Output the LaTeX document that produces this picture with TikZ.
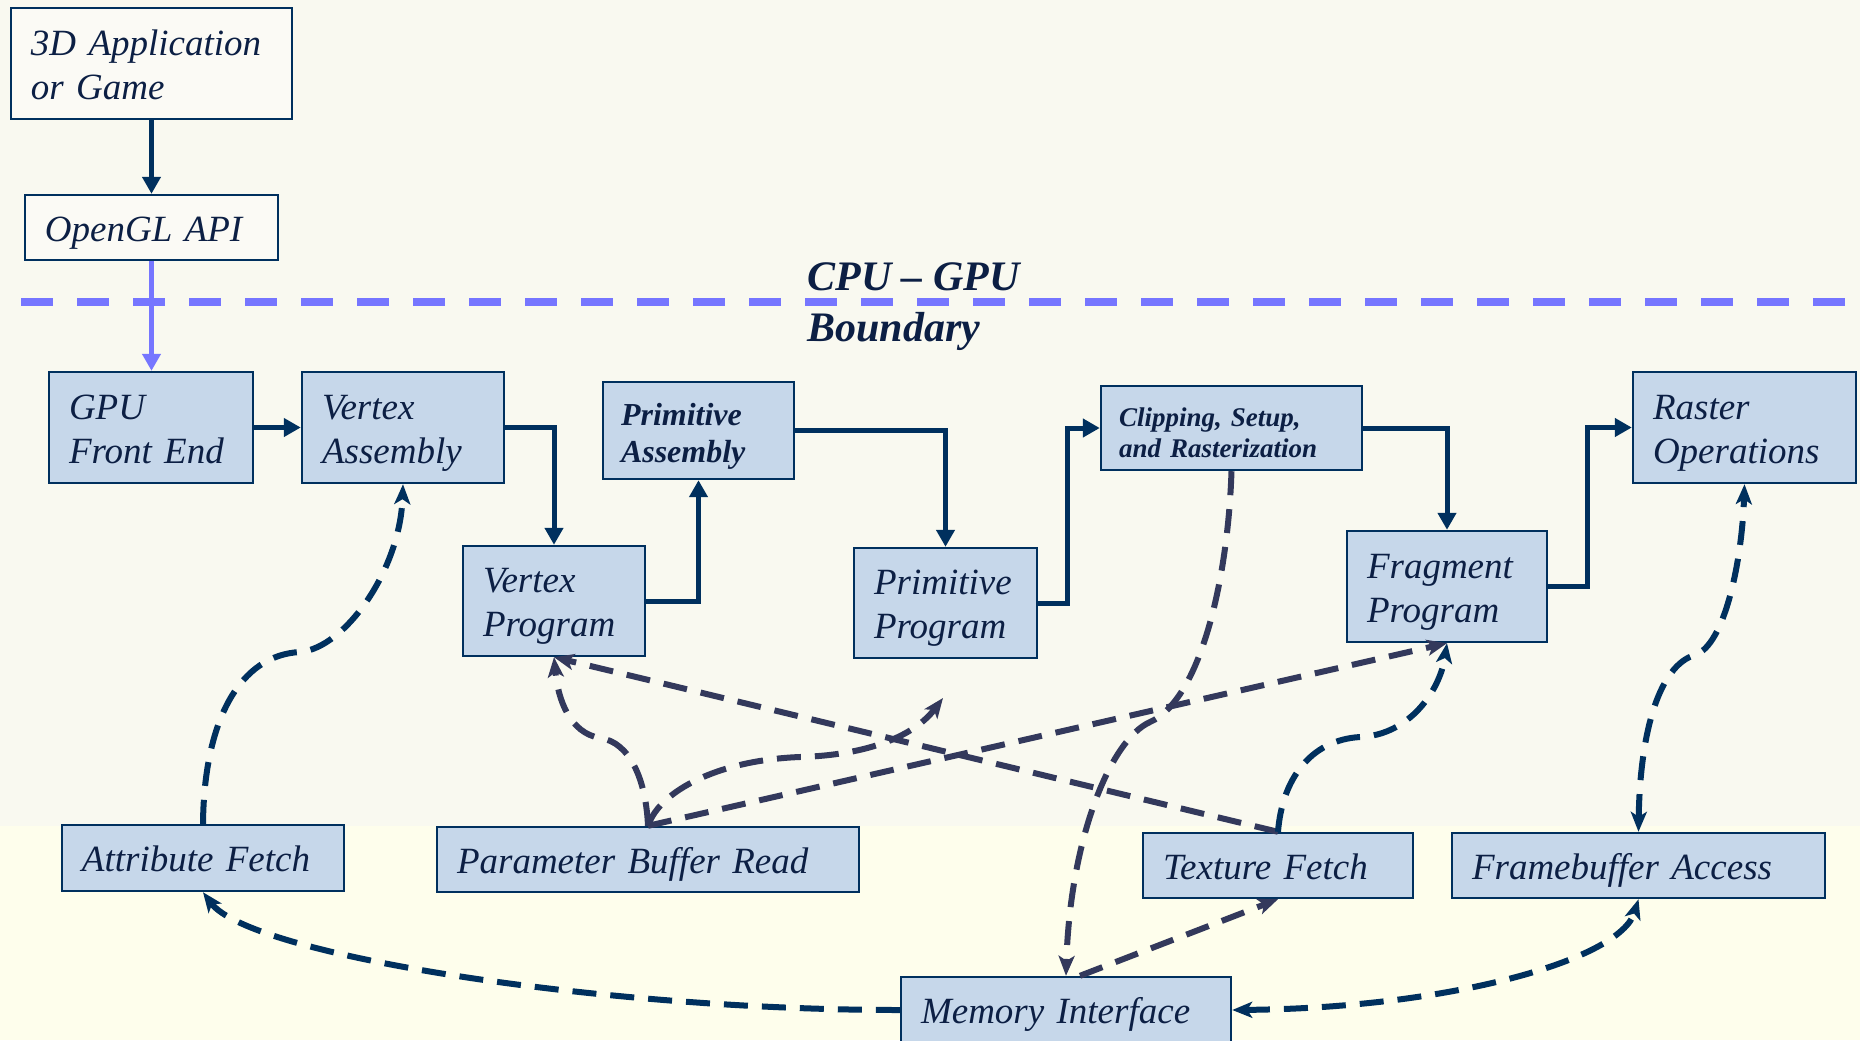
\documentclass[tikz,border=0pt]{standalone}
\usepackage{fontspec}
\setmainfont{Liberation Serif}
\usetikzlibrary{arrows.meta}

\definecolor{bgtop}{HTML}{F9F9F0}
\definecolor{bgbot}{HTML}{FEFEEC}
\definecolor{boxfill}{HTML}{C6D7EA}
\definecolor{paper}{HTML}{FBFAF5}
\definecolor{navy}{HTML}{00305E}
\definecolor{ink}{HTML}{0C1F44}
\definecolor{slate}{HTML}{33395C}
\definecolor{bound}{HTML}{7676FF}

% struts that fix where the lines sit inside the boxes:
% one gives the first line its height, the other the last line its depth
\newcommand\stagetop{\rule{0pt}{18pt}}
\newcommand\stagebot{\rule[-4.4pt]{0pt}{4.4pt}}
\newcommand\boldtop{\rule{0pt}{15pt}}
\newcommand\boldbot{\rule[-4pt]{0pt}{4pt}}
\newcommand\smalltop{\rule{0pt}{13.5pt}}
\newcommand\smallbot{\rule[-3.3pt]{0pt}{3.3pt}}

\tikzset{
  stage/.style={draw=navy, line width=1.2pt, fill=boxfill, text=ink,
    font=\itshape\fontsize{18.5}{22}\selectfont, align=left,
    inner xsep=10pt, inner ysep=0pt,
    execute at begin node=\stagetop, execute at end node=\stagebot},
  hostbox/.style={stage, fill=paper},
  boldstage/.style={stage, font=\bfseries\itshape\fontsize{16}{18.5}\selectfont, inner xsep=9pt,
    execute at begin node=\boldtop, execute at end node=\boldbot},
  smallstage/.style={boldstage, font=\bfseries\itshape\fontsize{13.5}{15.5}\selectfont,
    execute at begin node=\smalltop, execute at end node=\smallbot},
  flow/.style={draw=navy, line width=2.5pt, arrows={-Triangle[length=8.5pt,width=9pt]}},
  busnavy/.style={draw=navy, line width=3pt, dash pattern=on 12pt off 7pt,
    arrows={-Stealth[length=10pt,width=8pt,inset=2.5pt]}},
  busslate/.style={busnavy, draw=slate},
  twoway/.style={arrows={Stealth[length=10pt,width=8pt,inset=2.5pt]-Stealth[length=10pt,width=8pt,inset=2.5pt]}},
}

\begin{document}
\begin{tikzpicture}[x=0.5pt,y=-0.5pt]
  \useasboundingbox (0,0) rectangle (1860,1040);
  % paper
  \fill[bgtop] (0,0) rectangle (1860,826);
  \fill[bgbot] (0,826) rectangle (1860,1040);

  % host side
  \node[hostbox, minimum width=140.5pt, minimum height=55.5pt, text width=120.5pt] (app) at (151.5,63.5) {3D Application\\or Game};
  \node[hostbox, minimum width=126.5pt, minimum height=32.5pt, text width=106.5pt] (ogl) at (151.5,227.5) {OpenGL API};

  % CPU / GPU boundary
  \draw[bound, line width=3.85pt, dash pattern=on 16pt off 12pt] (21,302) -- (1860,302);
  \node[anchor=north west, inner sep=0pt, align=left, text=ink,
        font=\bfseries\itshape\fontsize{21}{25.5}\selectfont] (cpugpu) at (807,262) {CPU – GPU\\Boundary};

  % pipeline stages
  \node[stage, minimum width=102pt, minimum height=55.5pt, text width=82pt] (gpufe) at (151,427.5) {GPU\\Front End};
  \node[stage, minimum width=101pt, minimum height=55.5pt, text width=81pt] (va) at (403,427.5) {Vertex\\Assembly};
  \node[boldstage, minimum width=95.5pt, minimum height=48.5pt, text width=77.5pt] (pa) at (698.5,430.5) {Primitive\\Assembly};
  \node[smallstage, minimum width=130.5pt, minimum height=42pt, text width=112.5pt] (clip) at (1231.5,428) {Clipping, Setup,\\and Rasterization};
  \node[stage, minimum width=111.5pt, minimum height=55.5pt, text width=91.5pt] (ro) at (1744.5,427.5) {Raster\\Operations};
  \node[stage, minimum width=91pt, minimum height=55pt, text width=71pt] (vp) at (554,601) {Vertex\\Program};
  \node[stage, minimum width=91.5pt, minimum height=55pt, text width=71.5pt] (pp) at (945.5,603) {Primitive\\Program};
  \node[stage, minimum width=100pt, minimum height=55.5pt, text width=80pt] (fp) at (1447,586.5) {Fragment\\Program};

  % memory side
  \node[stage, minimum width=141pt, minimum height=33pt, text width=121pt] (af) at (203,858) {Attribute Fetch};
  \node[stage, minimum width=211pt, minimum height=32.5pt, text width=191pt] (pbr) at (648,859.5) {Parameter Buffer Read};
  \node[stage, minimum width=135pt, minimum height=32.5pt, text width=115pt] (tf) at (1278,865.5) {Texture Fetch};
  \node[stage, minimum width=186.5pt, minimum height=32.5pt, text width=166.5pt] (fa) at (1638.5,865.5) {Framebuffer Access};
  \node[stage, minimum width=165pt, minimum height=33pt, text width=145pt] (mi) at (1066,1010) {Memory Interface};

  % main data flow
  \draw[flow] (app.south) -- (ogl.north);
  \draw[flow, draw=bound] (ogl.south) -- (ogl.south |- gpufe.north);
  \draw[flow] (gpufe.east) -- (va.west);
  \draw[flow] (va.east) -| (vp.north);
  \draw[flow] (vp.east) -| (pa.south);
  \draw[flow] (pa.east) -| (pp.north);
  \draw[flow] (pp.east) -| ([xshift=-16pt]clip.west) -- (clip.west);
  \draw[flow] (clip.east) -| (fp.north);
  \draw[flow] (fp.east) -| ([xshift=-22pt]ro.west) -- (ro.west);

  % memory traffic
  \coordinate (pptip) at (943,698);
  \draw[busnavy] (af.north) .. controls (204,720) and (240,655) .. (300,652)
                 .. controls (345,648) and (400,570) .. (va.south);
  \draw[busslate] (pbr.north) .. controls (646,780) and (630,742) .. (600,738)
                  .. controls (570,733) and (558,700) .. (vp.south);
  \draw[busslate] (pbr.north) .. controls (660,790) and (720,760) .. (800,757)
                  .. controls (870,755) and (915,735) .. (pptip);
  \draw[busslate] (pbr.north) -- (fp.south);
  \draw[busslate] (tf.north) -- (vp.south);
  \draw[busnavy] (tf.north) .. controls (1282,780) and (1310,740) .. (1360,737)
                 .. controls (1410,735) and (1440,690) .. (fp.south);
  \draw[busslate] (clip.south) .. controls (1228,580) and (1200,700) .. (1150,722)
                  .. controls (1110,740) and (1070,840) .. (mi.north);
  \draw[busslate] ([xshift=7pt]mi.north) -- (tf.south);
  \draw[busnavy] (mi.west) .. controls (600,1010) and (250,955) .. (af.south);
  \draw[busnavy, twoway] (mi.east) .. controls (1450,1008) and (1620,960) .. (fa.south);
  \draw[busnavy, twoway] (fa.north) .. controls (1640,730) and (1660,665) .. (1695,655)
                         .. controls (1725,645) and (1742,560) .. (ro.south);
\end{tikzpicture}
\end{document}
